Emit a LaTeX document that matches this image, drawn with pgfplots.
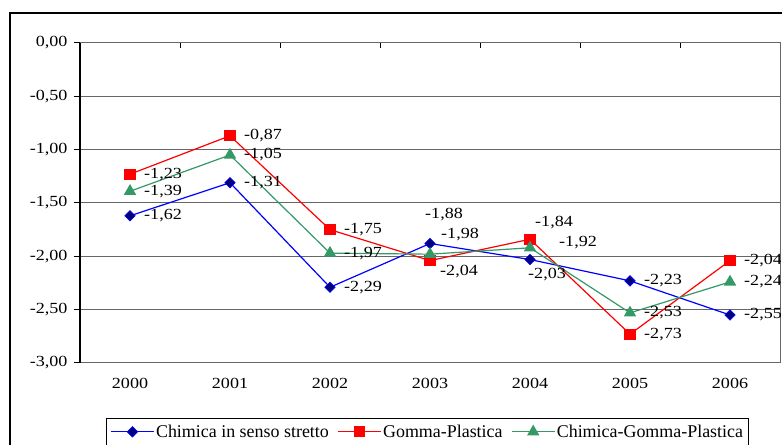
\documentclass[border=0pt]{standalone}
\usepackage{fontspec}
\setmainfont{Liberation Serif}
\newfontfamily\numfont{Liberation Serif}[FakeStretch=1.17]
\usepackage{pgfplots}
\pgfplotsset{compat=1.18}
\definecolor{cblue}{RGB}{0,0,255}
\definecolor{cnavy}{RGB}{0,0,128}
\definecolor{cred}{RGB}{255,0,0}
\definecolor{cgreen}{RGB}{51,153,102}
\tikzset{lbl/.style={anchor=west, inner sep=0pt, font=\numfont\fontsize{15.5}{15.5}\selectfont}}

\begin{document}
\begin{tikzpicture}[x=1bp,y=1bp]
\useasboundingbox (0,0) rectangle (782,445);
\draw[line width=2bp] (10,-10) -- (10,431.5) -- (800,431.5);
\begin{axis}[
    at={(80bp,82bp)}, anchor=south west,
    scale only axis, width=700bp, height=320bp,
    xmin=-0.5, xmax=6.5, ymin=-3, ymax=0,
    xtick={0,...,6},
    xticklabels={2000,2001,2002,2003,2004,2005,2006},
    major x tick style={draw=none},
    xticklabel style={yshift=-12bp},
    ytick={-3,-2.5,-2,-1.5,-1,-0.5,0},
    ytick pos=left, ytick align=outside,
    major tick length=6bp,
    y tick style={black, line width=1bp},
    yticklabel style={xshift=-3bp, /pgf/number format/.cd, fixed, fixed zerofill, precision=2, use comma, assume math mode=true},
    ticklabel style={font=\numfont\fontsize{15.5}{15.5}\selectfont},
    ymajorgrids, grid style={black!60, line width=1bp},
    axis line style={black!60, line width=1bp},
    legend columns=3,
    legend style={at={(0.0371,-0.1719)}, anchor=north west, draw=black, line width=0.8bp,
        font=\fontsize{18}{18}\selectfont, inner xsep=4bp, inner ysep=5bp,
        nodes={inner sep=1.5bp},
        /tikz/every even column/.append style={column sep=7bp}},
    legend image code/.code={
        \draw[mark repeat=2, mark phase=2, #1] plot coordinates {(0bp,0bp) (21.5bp,0bp) (43bp,0bp)};
    },
]

\addplot[cblue, line width=1.2bp, mark=square*, mark size=3.7bp,
    mark options={rotate=45, fill=cnavy, draw=cblue, line width=0.6bp}]
    coordinates {(0,-1.62) (1,-1.31) (2,-2.29) (3,-1.88) (4,-2.03) (5,-2.23) (6,-2.55)};
\addlegendentry{Chimica in senso stretto}

\addplot[cred, line width=1.2bp, mark=square*, mark size=5bp, mark options={fill=cred}]
    coordinates {(0,-1.23) (1,-0.87) (2,-1.75) (3,-2.04) (4,-1.84) (5,-2.73) (6,-2.04)};
\addlegendentry{Gomma-Plastica}

\addplot[cgreen, line width=1.2bp, mark=triangle*, mark size=6bp, mark options={fill=cgreen}]
    coordinates {(0,-1.39) (1,-1.05) (2,-1.97) (3,-1.98) (4,-1.92) (5,-2.53) (6,-2.24)};
\addlegendentry{Chimica-Gomma-Plastica}

% etichette standard a destra del punto
\node[lbl, xshift=14bp] at (axis cs:0,-1.23) {-1,23};
\node[lbl, xshift=14bp] at (axis cs:0,-1.39) {-1,39};
\node[lbl, xshift=14bp] at (axis cs:0,-1.62) {-1,62};
\node[lbl, xshift=14bp] at (axis cs:1,-0.87) {-0,87};
\node[lbl, xshift=14bp] at (axis cs:1,-1.05) {-1,05};
\node[lbl, xshift=14bp] at (axis cs:1,-1.31) {-1,31};
\node[lbl, xshift=14bp] at (axis cs:2,-1.75) {-1,75};
\node[lbl, xshift=14bp] at (axis cs:2,-1.97) {-1,97};
\node[lbl, xshift=14bp] at (axis cs:2,-2.29) {-2,29};
\node[lbl, xshift=14bp] at (axis cs:5,-2.23) {-2,23};
\node[lbl, xshift=14bp] at (axis cs:5,-2.53) {-2,53};
\node[lbl, xshift=14bp] at (axis cs:5,-2.73) {-2,73};
\node[lbl, xshift=14bp] at (axis cs:6,-2.04) {-2,04};
\node[lbl, xshift=14bp] at (axis cs:6,-2.24) {-2,24};
\node[lbl, xshift=14bp] at (axis cs:6,-2.55) {-2,55};
% etichette spostate a mano
\node[lbl] at (axis cs:2.95,-1.6125) {-1,88};
\node[lbl] at (axis cs:3.11,-1.80) {-1,98};
\node[lbl] at (axis cs:3.10,-2.147) {-2,04};
\node[lbl] at (axis cs:4.05,-1.6875) {-1,84};
\node[lbl] at (axis cs:4.29,-1.875) {-1,92};
\node[lbl] at (axis cs:3.98,-2.175) {-2,03};
\end{axis}
% asse verticale nero e tacche dell'asse delle categorie
\draw[black, line width=1.2bp] (80,82) -- (80,402);
\foreach \t in {180,280,380,480,580,680}{
  \draw[black, line width=1bp] (\t,402) -- (\t,397);
}
\end{tikzpicture}
\end{document}
